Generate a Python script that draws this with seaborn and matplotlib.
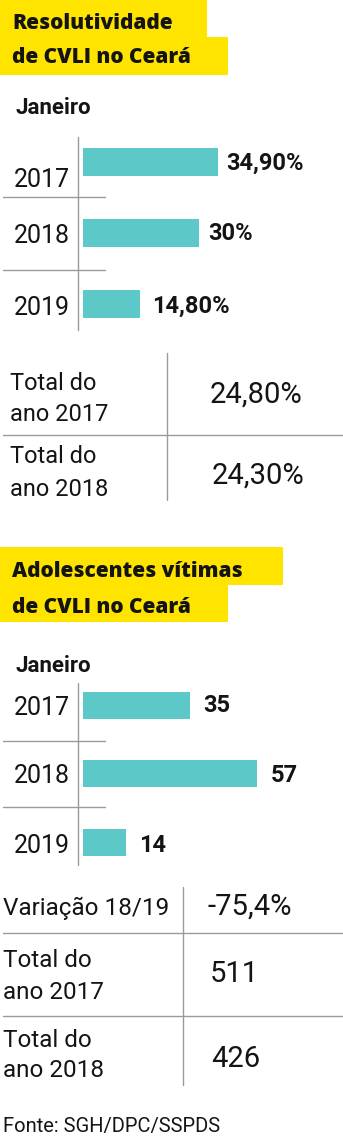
import matplotlib
matplotlib.use("Agg")
import matplotlib.pyplot as plt
import seaborn as sns
import pandas as pd
from matplotlib.lines import Line2D
from matplotlib.patches import Rectangle

# ---------------- data ----------------
years = ["2017", "2018", "2019"]
month = "Janeiro"

title1 = ["Resolutividade", "de CVLI no Ceará"]
resol_values = [34.9, 30.0, 14.8]
resol_labels = ["34,90%", "30%", "14,80%"]
resol_table_labels = [["Total do", "ano 2017"], ["Total do", "ano 2018"]]
resol_table_values = ["24,80%", "24,30%"]

title2 = ["Adolescentes vítimas", "de CVLI no Ceará"]
adol_values = [35, 57, 14]
adol_labels = ["35", "57", "14"]
adol_table_labels = [["Variação 18/19"], ["Total do", "ano 2017"], ["Total do", "ano 2018"]]
adol_table_values = ["-75,4%", "511", "426"]

source = "Fonte: SGH/DPC/SSPDS"

# ---------------- style ----------------
sns.set_style("white")
plt.rcParams["font.family"] = ["Roboto", "DejaVu Sans"]
TEAL = "#5cc8c7"
YELLOW = "#ffe400"
GRID = "#9a9a9a"
INK = "#141414"

W, H = 343, 1140
fig = plt.figure(figsize=(W / 100, H / 100), dpi=100)
fig.patch.set_facecolor("white")


def fx(x):
    return x / W


def fy(y):
    return 1 - y / H


def ftext(x, y, s, **kw):
    kw.setdefault("color", INK)
    fig.text(fx(x), fy(y), s, va="baseline", **kw)


def hline(x0, x1, y):
    fig.add_artist(Line2D([fx(x0), fx(x1)], [fy(y), fy(y)], color=GRID, lw=1.0,
                          transform=fig.transFigure))


def vline(x, y0, y1):
    fig.add_artist(Line2D([fx(x), fx(x)], [fy(y0), fy(y1)], color=GRID, lw=1.0,
                          transform=fig.transFigure))


def ybox(x0, y0, x1, y1):
    fig.add_artist(Rectangle((fx(x0), fy(y1)), (x1 - x0) / W, (y1 - y0) / H,
                             transform=fig.transFigure, facecolor=YELLOW, lw=0))


def title(lines, boxes, baselines):
    for (x0, y0, x1, y1) in boxes:
        ybox(x0, y0, x1, y1)
    for s, b in zip(lines, baselines):
        ftext(12, b, s, fontsize=15, fontweight="extra bold",
              family=["Open Sans", "Roboto", "DejaVu Sans"])


def bar_chart(top, spacing, scale, values, labels, gaps, year_dy, val_dy):
    ax = fig.add_axes([fx(83), fy(top + 3 * spacing), 260 / W, 3 * spacing / H])
    df = pd.DataFrame({"year": years, "value": values})
    sns.barplot(data=df, x="value", y="year", orient="h", color=TEAL,
                saturation=1, width=0.394, linewidth=0, ax=ax)
    ax.set_xlim(0, 260 / scale)
    ax.set_ylim(2.5, -0.5)
    ax.set_axis_off()
    for i, (v, lab) in enumerate(zip(values, labels)):
        ax.annotate(lab, xy=(v, i), xytext=(gaps[i] * 0.72, -val_dy[i] * 0.72),
                    textcoords="offset points", ha="left", va="baseline",
                    fontsize=17, fontweight="bold", color=INK)
        ax.annotate(years[i], xy=(0, i), xytext=(-13 * 0.72, -year_dy[i] * 0.72),
                    textcoords="offset points", ha="right", va="baseline",
                    fontsize=18, color=INK)
    return ax


# ---------------- section 1 ----------------
title(title1, [(0, 0, 207, 37.5), (0, 37.5, 228, 75)], [29, 63])
ftext(15, 114, month, fontsize=16, fontweight="bold")

vline(78, 137, 330)
hline(3, 105, 197)
hline(3, 105, 270)
bar_chart(126.5, 71, 3.868, resol_values, resol_labels,
          gaps=[8, 9, 12], year_dy=[25, 10, 11], val_dy=[8, 7, 9])

# table 1
vline(167, 353, 500)
hline(3, 343, 435)
t1_label_base = [(390, 421), (463, 496)]
t1_value_base = [403, 484]
t1_value_x = [210, 212]
for lab, bases in zip(resol_table_labels, t1_label_base):
    for s, b in zip(lab, bases):
        ftext(10, b, s, fontsize=17)
for val, b, x in zip(resol_table_values, t1_value_base, t1_value_x):
    ftext(x, b, val, fontsize=21)

# ---------------- section 2 ----------------
title(title2, [(0, 547, 283, 585), (0, 585, 228, 622)], [577, 613])
ftext(15, 672, month, fontsize=16, fontweight="bold")

vline(78, 683, 865)
hline(3, 105, 741)
hline(3, 105, 807)
bar_chart(671, 68.5, 3.06, adol_values, adol_labels,
          gaps=[13, 13, 13], year_dy=[9.5, 9, 11], val_dy=[7, 8, 10])

# table 2
vline(183, 887, 1085)
hline(3, 343, 933)
hline(3, 343, 1016)
t2_label_base = [(915,), (967, 999), (1047, 1077)]
t2_value_base = [915, 982, 1067]
t2_value_x = [208, 210, 211]
for lab, bases in zip(adol_table_labels, t2_label_base):
    for s, b in zip(lab, bases):
        ftext(3, b, s, fontsize=17.5)
for val, b, x in zip(adol_table_values, t2_value_base, t2_value_x):
    ftext(x, b, val, fontsize=21)

ftext(3, 1132, source, fontsize=14.5)

fig.savefig("out.png", dpi=100, facecolor="white")
